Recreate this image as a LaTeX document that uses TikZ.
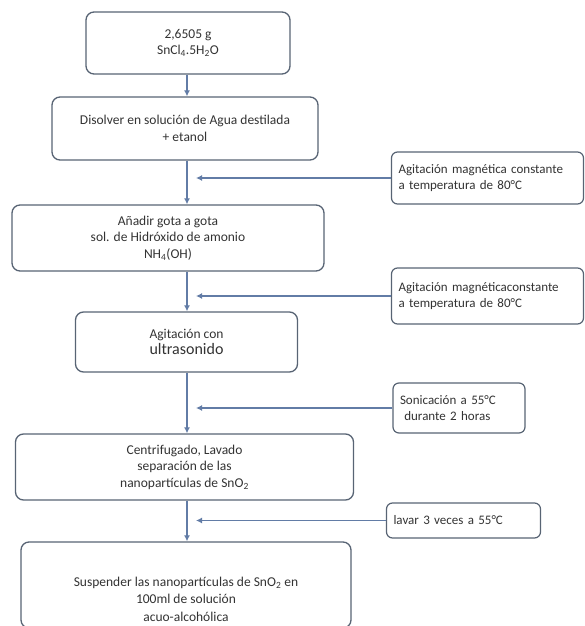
\documentclass[tikz,border=0pt]{standalone}
\usepackage{fontspec}
\setmainfont{Carlito}
\usetikzlibrary{arrows.meta}
\definecolor{boxline}{RGB}{88,100,116}
\definecolor{flowline}{RGB}{98,124,166}
\newcommand{\chemsub}[1]{\textsubscript{#1}}
\begin{document}
\begin{tikzpicture}[x=1pt,y=-1pt,
  stepbox/.style={draw=boxline,line width=1.3pt,rounded corners=8pt,fill=white,
    align=center,font=\fontsize{13.5}{16.5}\selectfont,text=black!80,inner sep=4pt},
  steptext/.style={align=center,font=\fontsize{13.5}{17.5}\selectfont,text=black!80},
  notebox/.style={draw=boxline,line width=1.2pt,rounded corners=6pt,fill=white,
    align=left,font=\fontsize{13}{16}\selectfont,text=black!80,inner xsep=7pt},
  flow/.style={draw=flowline,line width=1.6pt,-{Latex[length=6pt,width=6pt]}},
  feed/.style={draw=flowline,line width=1.6pt,-{Latex[length=6pt,width=6pt]}}]
\useasboundingbox (0,0) rectangle (584,626);
\coordinate (axis) at (187,0);
\node[stepbox,minimum width=204pt,minimum height=62pt] (b1) at (188,43)
  {2,6505 g\\SnCl\chemsub{4}.5H\chemsub{2}O};
\node[stepbox,minimum width=266pt,minimum height=63pt] (b2) at (185,128.5)
  {Disolver en solución de Agua destilada\\+ etanol};
\node[stepbox,minimum width=312pt,minimum height=66pt] (b3) at (168,238)
  {Añadir gota a gota\\sol. de Hidróxido de amonio\\NH\chemsub{4}(OH)};
\node[stepbox,minimum width=222pt,minimum height=60pt] (b4) at (186.5,342)
  {Agitación con\\{\fontsize{16}{18}\selectfont ultrasonido}};
\node[stepbox,minimum width=338pt,minimum height=66pt] (b5) at (184.5,467)
  {Centrifugado, Lavado\\separación de las\\nanopartículas de SnO\chemsub{2}};
\node[stepbox,minimum width=330pt,minimum height=86pt] (b6) at (186,585) {};
\node[steptext] (t6) at (186,599)
  {Suspender las nanopartículas de SnO\chemsub{2} en\\100ml de solución\\acuo-alcohólica};
\node[notebox,text width=178pt,minimum height=52pt] (n1) at (487.5,178)
  {Agitación magnética constante\\a temperatura de 80°C};
\node[notebox,text width=178pt,minimum height=56pt] (n2) at (487.5,296)
  {Agitación magnéticaconstante\\a temperatura de 80°C};
\node[notebox,text width=118pt,minimum height=50pt] (n3) at (459,408)
  {Sonicación a 55°C\\\ durante 2 horas};
\node[notebox,text width=140pt,minimum height=35pt] (n4) at (463.5,520.5)
  {lavar 3 veces a 55°C};
\coordinate (j1) at (196,178);
\coordinate (j2) at (196,296);
\coordinate (j3) at (196,408);
\coordinate (j4) at (196,520.5);
\draw[flow] (b1.south -| axis) -- (b2.north -| axis);
\draw[flow] (b2.south -| axis) -- (b3.north -| axis);
\draw[flow] (b3.south -| axis) -- (b4.north -| axis);
\draw[flow] (b4.south -| axis) -- (b5.north -| axis);
\draw[flow] (b5.south -| axis) -- (b6.north -| axis);
\draw[feed] (n1.west) -- (j1);
\draw[feed] (n2.west) -- (j2);
\draw[feed] (n3.west) -- (j3);
\draw[feed] (n4.west) -- (j4);
\end{tikzpicture}
\end{document}
